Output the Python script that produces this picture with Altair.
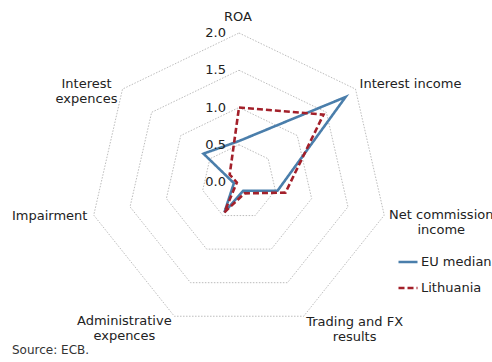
import math

import altair as alt
import pandas as pd

# ---- data -------------------------------------------------------------
categories = [
    "ROA",
    "Interest income",
    "Net commission income",
    "Trading and FX results",
    "Administrative expences",
    "Impairment",
    "Interest expences",
]
category_labels = [
    "ROA",
    "Interest income",
    "Net commission\nincome",
    "Trading and FX\nresults",
    "Administrative\nexpences",
    "Impairment",
    "Interest\nexpences",
]
series_names = ["EU median", "Lithuania"]
eu_median = [0.55, 1.83, 0.53, 0.13, 0.45, 0.07, 0.61]
lithuania = [1.00, 1.45, 0.64, 0.17, 0.45, 0.03, 0.16]
ring_values = [0.5, 1.0, 1.5, 2.0]
tick_values = [0.0, 0.5, 1.0, 1.5, 2.0]
tick_labels = ["0.0", "0.5", "1.0", "1.5", "2.0"]
source_note = "Source: ECB."

# ---- layout -----------------------------------------------------------
W, H = 492, 362
CX, CY = 239, 182          # centre of the radar, pixels
UNIT = 74.5                # pixels per 1.0 on the radial scale
FONT = "DejaVu Sans"
TEXT = "#222222"
BLUE = "#4a7eab"
RED = "#a3202a"
GRID = "#ababab"

# label block offsets from each outer vertex (pixels: right, down)
label_offsets = [(-1, -16), (55, -5), (57, 0), (51, 6), (-50, 5), (-44, 1), (-36, -5)]

N = len(categories)


def polar(value, i):
    a = 2 * math.pi * i / N
    return value * math.sin(a), value * math.cos(a)


x_scale = alt.Scale(domain=[-CX / UNIT, (W - CX) / UNIT], nice=False, zero=False)
y_scale = alt.Scale(domain=[-(H - CY) / UNIT, CY / UNIT], nice=False, zero=False)
X = alt.X("x:Q", scale=x_scale, axis=None)
Y = alt.Y("y:Q", scale=y_scale, axis=None)

# heptagonal grid rings
grid_rows = []
for r in ring_values:
    for k in range(N + 1):
        x, y = polar(r, k % N)
        grid_rows.append({"ring": r, "k": k, "x": x, "y": y})
grid = (
    alt.Chart(pd.DataFrame(grid_rows))
    .mark_line(color=GRID, strokeWidth=0.8, strokeDash=[1.5, 1.5])
    .encode(x=X, y=Y, detail="ring:N", order="k:Q")
)

# series polygons (closed by repeating the first point)
series_rows = []
for name, values in zip(series_names, [eu_median, lithuania]):
    for k in range(N + 1):
        x, y = polar(values[k % N], k % N)
        series_rows.append({"series": name, "k": k, "x": x, "y": y})
series_df = pd.DataFrame(series_rows)

legend = alt.Legend(
    title=None,
    orient="none",
    legendX=397,
    legendY=251,
    symbolType="stroke",
    symbolSize=361,
    symbolStrokeWidth=2.5,
    labelFont=FONT,
    labelFontSize=13,
    labelColor=TEXT,
    labelOffset=2,
    rowPadding=8,
    padding=0,
)
color = alt.Color(
    "series:N",
    scale=alt.Scale(domain=series_names, range=[BLUE, RED]),
    legend=legend,
)
dash = alt.StrokeDash(
    "series:N",
    scale=alt.Scale(domain=series_names, range=[[1, 0], [6, 3]]),
    legend=legend,
)


def series_layer(name):
    return (
        alt.Chart(series_df)
        .transform_filter(alt.datum.series == name)
        .mark_line(strokeWidth=2.6, strokeJoin="miter")
        .encode(x=X, y=Y, order="k:Q", color=color, strokeDash=dash)
    )


# radial tick labels along the ROA spoke
ticks = (
    alt.Chart(pd.DataFrame({"v": tick_values, "t": tick_labels, "x": [0.0] * len(tick_values)}))
    .mark_text(align="right", baseline="middle", dx=-13, font=FONT, fontSize=13, color=TEXT)
    .encode(x=X, y=alt.Y("v:Q", scale=y_scale, axis=None), text="t:N")
)

# category labels outside the outer ring
lab_rows = []
for i, (lab, (ox, oy)) in enumerate(zip(category_labels, label_offsets)):
    x, y = polar(ring_values[-1], i)
    lab_rows.append({"x": x + ox / UNIT, "y": y - oy / UNIT, "label": lab})
cat_labels = (
    alt.Chart(pd.DataFrame(lab_rows))
    .mark_text(align="center", baseline="middle", lineBreak="\n", lineHeight=15,
               font=FONT, fontSize=13, color=TEXT)
    .encode(x=X, y=Y, text="label:N")
)

source = (
    alt.Chart(pd.DataFrame({"t": [source_note]}))
    .mark_text(align="left", baseline="middle", font=FONT, fontSize=12, color="#333333")
    .encode(x=alt.value(12), y=alt.value(350), text="t:N")
)

chart = (
    alt.layer(grid, series_layer("EU median"), series_layer("Lithuania"), ticks, cat_labels, source)
    .properties(width=W, height=H, padding=0, autosize=alt.AutoSizeParams(type="none"),
                background="white")
    .configure_view(stroke=None)
)

chart.save("out.html", embed_options={"renderer": "svg", "actions": False})
